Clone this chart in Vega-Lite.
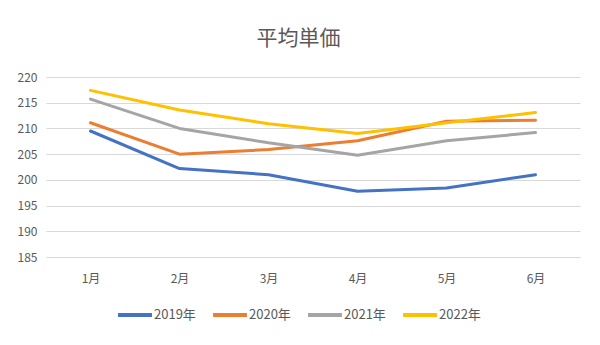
{
  "$schema": "https://vega.github.io/schema/vega-lite/v6.json",
  "autosize": "none",
  "width": 534,
  "height": 180,
  "padding": {"left": 46, "top": 77, "right": 20, "bottom": 88},
  "background": "white",
  "title": {"text": "平均単価", "fontSize": 21, "font": "Noto Sans CJK JP", "fontWeight": "normal", "color": "#595959", "anchor": "middle", "frame": "bounds", "offset": 22},
  "data": {"values": [
    {"month": "1月", "year": "2019年", "value": 209.5},
    {"month": "2月", "year": "2019年", "value": 202.2},
    {"month": "3月", "year": "2019年", "value": 201.0},
    {"month": "4月", "year": "2019年", "value": 197.8},
    {"month": "5月", "year": "2019年", "value": 198.4},
    {"month": "6月", "year": "2019年", "value": 201.0},
    {"month": "1月", "year": "2020年", "value": 211.1},
    {"month": "2月", "year": "2020年", "value": 205.0},
    {"month": "3月", "year": "2020年", "value": 205.9},
    {"month": "4月", "year": "2020年", "value": 207.6},
    {"month": "5月", "year": "2020年", "value": 211.4},
    {"month": "6月", "year": "2020年", "value": 211.6},
    {"month": "1月", "year": "2021年", "value": 215.7},
    {"month": "2月", "year": "2021年", "value": 210.0},
    {"month": "3月", "year": "2021年", "value": 207.2},
    {"month": "4月", "year": "2021年", "value": 204.8},
    {"month": "5月", "year": "2021年", "value": 207.6},
    {"month": "6月", "year": "2021年", "value": 209.2},
    {"month": "1月", "year": "2022年", "value": 217.4},
    {"month": "2月", "year": "2022年", "value": 213.6},
    {"month": "3月", "year": "2022年", "value": 210.9},
    {"month": "4月", "year": "2022年", "value": 209.0},
    {"month": "5月", "year": "2022年", "value": 211.1},
    {"month": "6月", "year": "2022年", "value": 213.1}
  ]},
  "mark": {"type": "line", "strokeWidth": 3, "strokeCap": "round", "strokeJoin": "round"},
  "encoding": {
    "x": {"field": "month", "type": "ordinal", "sort": null, "scale": {"type": "point", "padding": 0.5},
      "axis": {"title": null, "labelAngle": 0, "domain": false, "ticks": false, "grid": false, "labelPadding": 16, "labelFontSize": 12, "labelColor": "#595959", "labelFont": "Noto Sans CJK JP"}},
    "y": {"field": "value", "type": "quantitative", "scale": {"domain": [185, 220], "zero": false, "nice": false},
      "axis": {"title": null, "values": [185, 190, 195, 200, 205, 210, 215, 220], "domain": false, "ticks": false, "gridColor": "#d9d9d9", "gridWidth": 1, "labelPadding": 9, "labelFontSize": 12, "labelColor": "#595959", "labelFont": "Noto Sans CJK JP"}},
    "color": {"field": "year", "type": "nominal",
      "scale": {"domain": ["2019年", "2020年", "2021年", "2022年"], "range": ["#4472C4", "#ED7D31", "#A5A5A5", "#FFC000"]},
      "legend": {"title": null, "orient": "none", "direction": "horizontal", "legendX": 70, "legendY": 219, "symbolType": "stroke", "symbolSize": 1150, "symbolStrokeWidth": 4, "labelFontSize": 13, "labelColor": "#595959", "labelFont": "Noto Sans CJK JP", "labelOffset": 0, "columnPadding": 9}}
  },
  "config": {"view": {"stroke": null}}
}
